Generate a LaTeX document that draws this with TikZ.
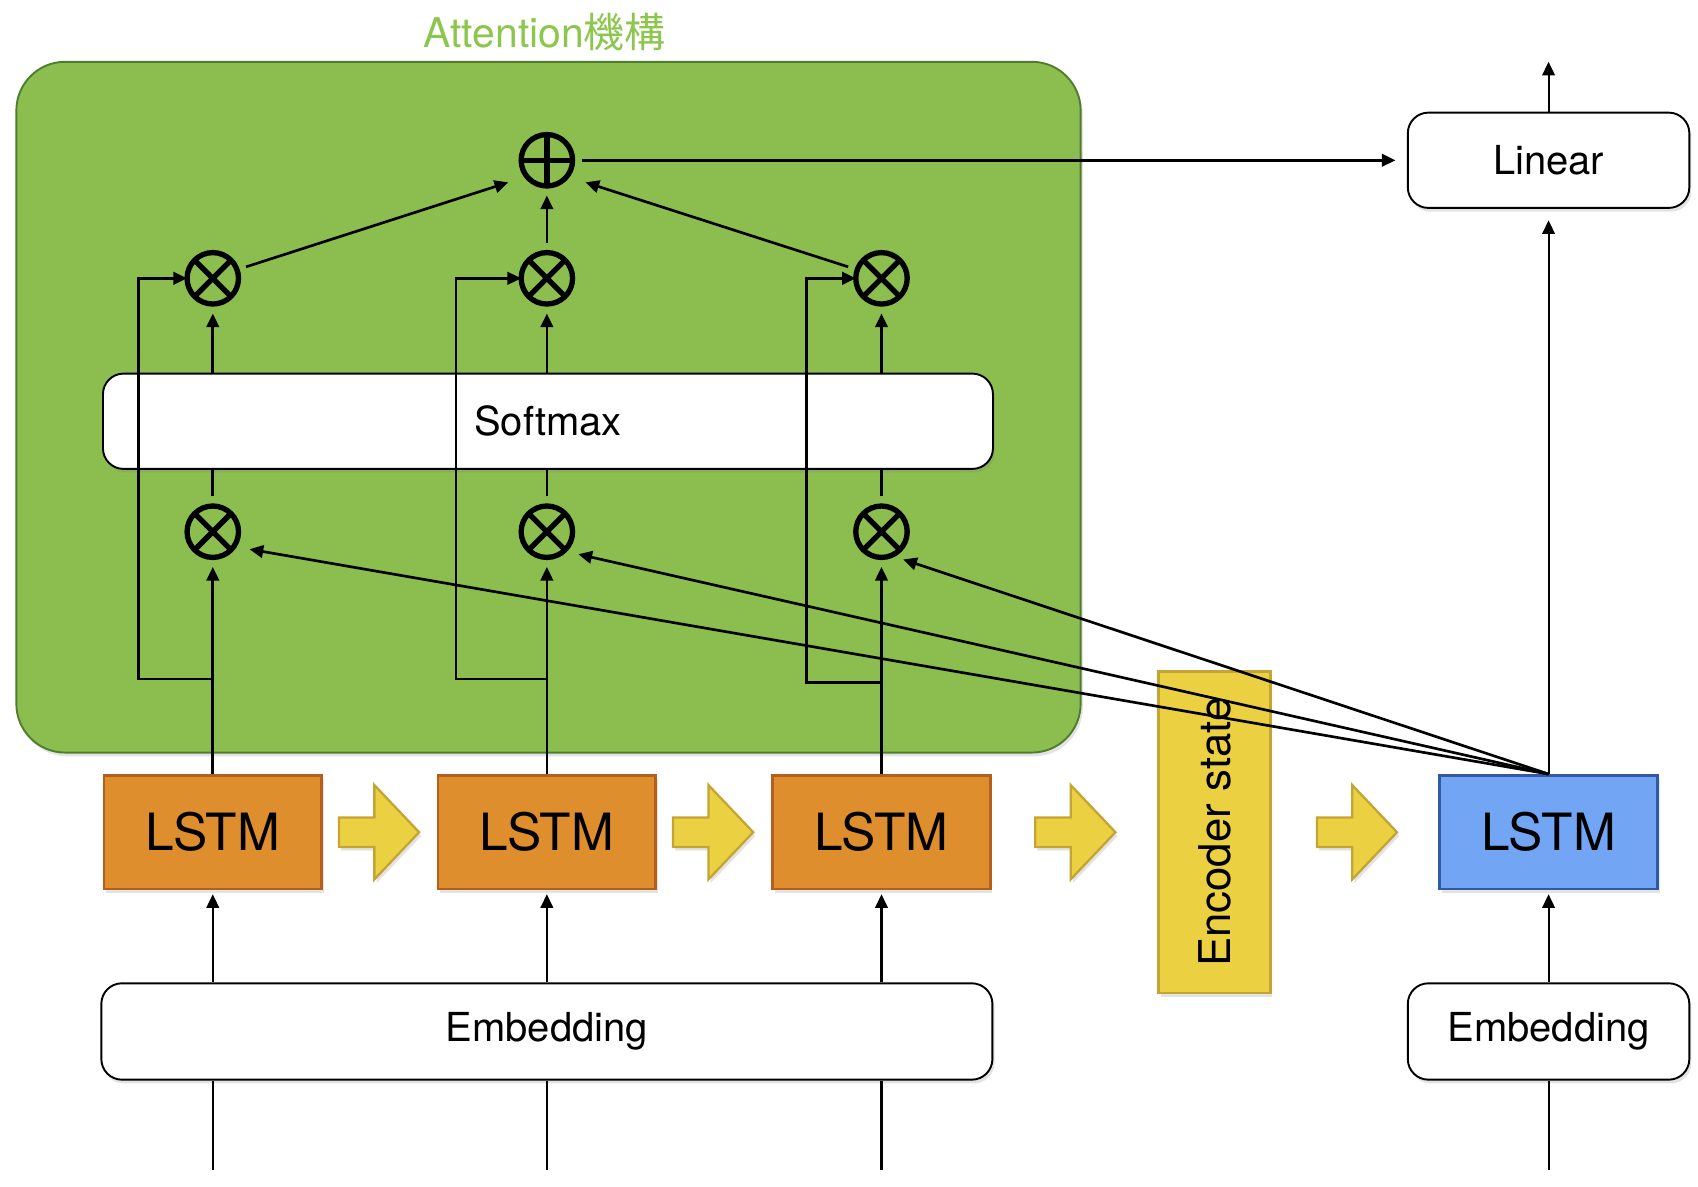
\documentclass[tikz,border=0pt]{standalone}
\usepackage{fontspec}
\setmainfont{TeX Gyre Heros}
\newfontfamily\cjk{Noto Sans CJK JP}
\usepackage{tikz}
\usetikzlibrary{%
  arrows.meta,%
  shapes.arrows,%
  shadows%
}
\definecolor{attgreen}{RGB}{139,190,78}
\definecolor{attline}{RGB}{80,125,45}
\definecolor{titlegreen}{RGB}{140,198,76}
\definecolor{lstmorange}{RGB}{222,142,44}
\definecolor{lstmline}{RGB}{180,95,30}
\definecolor{decblue}{RGB}{114,166,245}
\definecolor{decline}{RGB}{50,90,160}
\definecolor{encyellow}{RGB}{235,209,66}
\definecolor{encline}{RGB}{196,165,52}
\tikzset{
  soft shadow/.style={drop shadow={opacity=.22,shadow xshift=.04cm,shadow yshift=-.07cm}},
  layer/.style={draw,fill=white,line width=1pt,rounded corners=.38cm,
    font=\fontsize{21}{25}\selectfont,soft shadow},
  lstm/.style={draw=lstmline,fill=lstmorange,line width=1.4pt,minimum width=4.02cm,
    minimum height=2.1cm,font=\fontsize{27}{32}\selectfont,soft shadow},
  op/.style={circle,draw,line width=2.8pt,minimum size=.95cm,inner sep=0pt,outer sep=5pt},
  otimes/.style={op,path picture={\draw[line width=2.8pt]
    (path picture bounding box.north west) -- (path picture bounding box.south east)
    (path picture bounding box.north east) -- (path picture bounding box.south west);}},
  oplus/.style={op,path picture={\draw[line width=2.8pt]
    (path picture bounding box.north) -- (path picture bounding box.south)
    (path picture bounding box.west) -- (path picture bounding box.east);}},
  flow/.style={single arrow,draw=encline,fill=encyellow,line width=1.2pt,
    single arrow tip angle=93,single arrow head extend=.6cm,minimum height=1.48cm,
    inner xsep=0pt,inner ysep=.25cm,anchor=tail,soft shadow},
  conn/.style={line width=1.4pt},
  io/.style={line width=1.1pt}
}

\begin{document}
\begin{tikzpicture}[x=0.02cm,y=-0.02cm,>={Triangle[length=7.2pt,width=6.6pt]}]
\useasboundingbox (0,0) rectangle (1568,1096);
% attention block
\node[draw=attline,fill=attgreen,line width=1pt,rounded corners=.9cm,minimum width=19.66cm,
  minimum height=12.76cm,soft shadow] (att) at (506.5,376) {};
\node[text=titlegreen,font=\fontsize{21.5}{26}\selectfont] (title) at (503,30) {Attention{\cjk 機構}};
\node[layer,minimum width=16.44cm,minimum height=1.76cm] (soft) at (506,389) {Softmax};
\node[oplus] (plus) at (505,148) {};
\node[otimes] (t1) at (196.5,257) {};
\node[otimes] (t2) at (505,257) {};
\node[otimes] (t3) at (814,257) {};
\node[otimes] (b1) at (196.5,491) {};
\node[otimes] (b2) at (505,491) {};
\node[otimes] (b3) at (814,491) {};
% encoder
\node[lstm] (l1) at (196.5,768.5) {LSTM};
\node[lstm] (l2) at (505,768.5) {LSTM};
\node[lstm] (l3) at (814,768.5) {LSTM};
\node[layer,minimum width=16.46cm,minimum height=1.78cm] (emb) at (505,952.5) {Embedding};
\node[draw=encline,fill=encyellow,line width=1.4pt,rotate=90,minimum width=5.94cm,
  minimum height=2.06cm,font=\fontsize{23}{27}\selectfont,soft shadow] (enc) at (1121.5,768.5) {Encoder state};
\node[flow] (a1) at (312,768.5) {};
\node[flow] (a2) at (620.5,768.5) {};
\node[flow] (a3) at (955,768.5) {};
\node[flow] (a4) at (1215,768.5) {};
% decoder
\node[lstm,draw=decline,fill=decblue] (dec) at (1430,768.5) {LSTM};
\node[layer,minimum width=5.2cm,minimum height=1.78cm] (demb) at (1430,952.5) {Embedding};
\node[layer,minimum width=5.2cm,minimum height=1.76cm] (lin) at (1430,148) {Linear};
\coordinate (j1) at (196.5,627);
\coordinate (j2) at (505,627);
\coordinate (j3) at (814,630);
\coordinate (out) at (1430,57);
\coordinate (in1) at (196.5,1080);
\coordinate (in2) at (505,1080);
\coordinate (in3) at (814,1080);
\coordinate (in4) at (1430,1080);

\path[->,conn] (l1) edge (b1)
               (l2) edge (b2)
               (l3) edge (b3)
               (soft.north -| t1) edge (t1)
               (soft.north -| t2) edge (t2)
               (soft.north -| t3) edge (t3)
               (t1.19) edge[shorten >=5pt] (plus.213)
               (t2) edge (plus)
               (t3.161) edge[shorten >=5pt] (plus.-33)
               (plus) edge[shorten >=6pt] (lin)
;
\path[conn] (b1) edge (b1 |- soft.south)
            (b2) edge (b2 |- soft.south)
            (b3) edge (b3 |- soft.south)
;
\draw[->,conn,shorten >=-5pt] (j1) -- ++(-68.5,0) |- (t1);
\draw[->,conn,shorten >=-5pt] (j2) -- ++(-84,0) |- (t2);
\draw[->,conn,shorten >=-5pt] (j3) -- ++(-69,0) |- (t3);
\path[->,conn] (dec.north) edge[shorten >=3pt] (b1.-28)
               (dec.north) edge[shorten >=2pt] (b2.-38)
               (dec.north) edge (b3.-52)
;
\path[->,io] (dec) edge[shorten >=6pt] (lin)
             (lin) edge (out)
             (emb.north -| l1) edge[shorten >=2pt] (l1)
             (emb.north -| l2) edge[shorten >=2pt] (l2)
             (emb.north -| l3) edge[shorten >=2pt] (l3)
             (demb) edge[shorten >=2pt] (dec)
;
\path[io] (in1) edge (in1 |- emb.south)
          (in2) edge (in2 |- emb.south)
          (in3) edge (in3 |- emb.south)
          (in4) edge (demb)
;
\end{tikzpicture}
\end{document}
